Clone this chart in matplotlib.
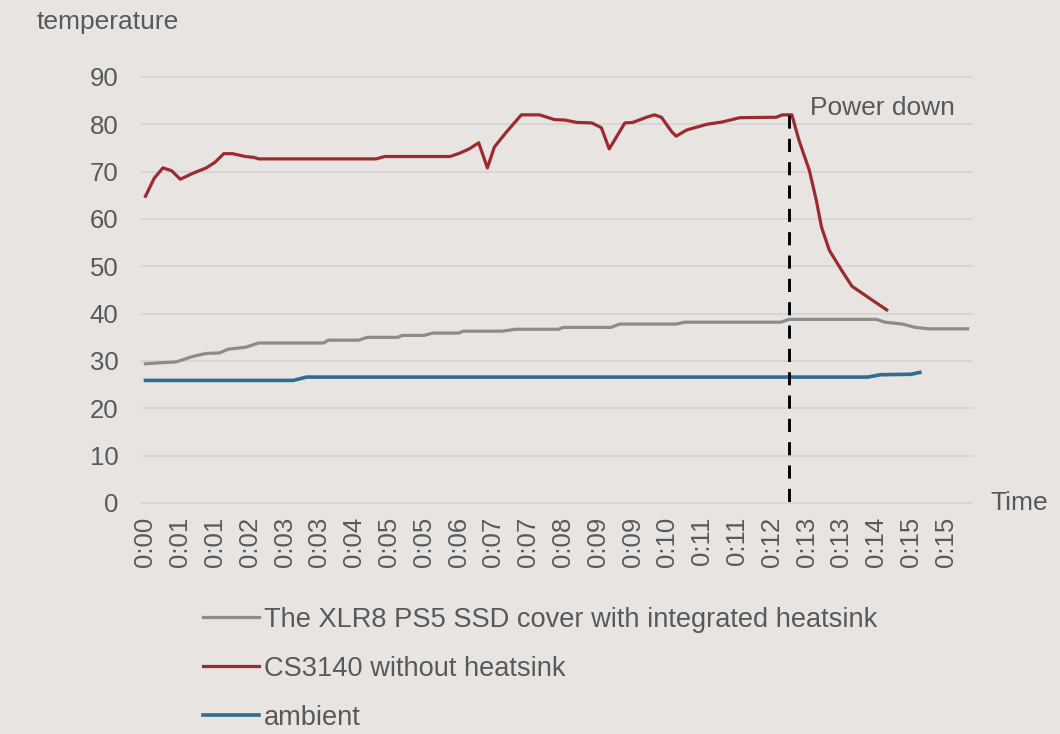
import matplotlib
matplotlib.use("Agg")
import matplotlib.pyplot as plt

plt.rcParams['font.family'] = ['Liberation Sans', 'DejaVu Sans']

# ---- data (time in seconds, temperature in °C) ----
tick_seconds = [0, 40, 80, 120, 160, 200, 240, 280, 320, 360, 400, 440,
                480, 520, 560, 600, 640, 680, 720, 760, 800, 840, 880, 920]
tick_labels = ["0:00", "0:01", "0:01", "0:02", "0:03", "0:03", "0:04", "0:05",
               "0:05", "0:06", "0:07", "0:07", "0:08", "0:09", "0:09", "0:10",
               "0:11", "0:11", "0:12", "0:13", "0:13", "0:14", "0:15", "0:15"]

xlr8_t = [0, 15, 35, 55, 70, 85, 95, 115, 130, 205, 210, 245, 255, 290, 295,
          320, 330, 360, 365, 410, 425, 475, 480, 535, 545, 610, 620, 730,
          740, 840, 850, 870, 885, 900, 945]
xlr8_v = [29.4, 29.6, 29.8, 31.0, 31.6, 31.7, 32.5, 32.9, 33.8, 33.8, 34.4,
          34.4, 35.0, 35.0, 35.4, 35.4, 35.9, 35.9, 36.3, 36.3, 36.7, 36.7,
          37.1, 37.1, 37.8, 37.8, 38.2, 38.2, 38.8, 38.8, 38.2, 37.8, 37.1,
          36.8, 36.8]

cs_t = [0, 10, 20, 30, 40, 55, 70, 80, 90, 100, 115, 125, 130, 265, 275,
        350, 361, 372, 383, 393, 401, 415, 432, 453, 470, 482, 496, 513,
        524, 533, 551, 560, 576, 585, 593, 605, 610, 622, 645, 663, 683,
        725, 732, 743, 751, 763, 771, 777, 786, 800, 812, 835, 852]
cs_v = [64.8, 68.6, 70.8, 70.2, 68.4, 69.7, 70.8, 72.0, 73.8, 73.8, 73.2,
        73.0, 72.7, 72.7, 73.2, 73.2, 73.9, 74.8, 76.1, 70.8, 75.2, 78.4,
        82.0, 82.0, 81.0, 80.9, 80.4, 80.3, 79.3, 74.8, 80.3, 80.4, 81.5,
        82.0, 81.5, 78.4, 77.5, 78.8, 80.0, 80.5, 81.4, 81.5, 82.0, 82.0,
        76.7, 70.3, 64.0, 58.3, 53.4, 49.2, 45.8, 42.9, 40.8]

amb_t = [0, 170, 185, 830, 845, 880, 890]
amb_v = [25.9, 25.9, 26.6, 26.6, 27.1, 27.2, 27.6]

power_down_t = 740

series_names = ["The XLR8 PS5 SSD cover with integrated heatsink",
                "CS3140 without heatsink",
                "ambient"]

# ---- style ----
bg = "#E8E4E1"
grid_c = "#D8D4D1"
text_c = "#595959"
col_gray = "#8C8C8C"
col_red = "#9B2B30"
col_blue = "#2F6E8E"

fig = plt.figure(figsize=(10.6, 7.34), dpi=100, facecolor=bg)
ax = fig.add_axes([142/1060, 1-503/734, 830/1060, 426/734], facecolor=bg)

l1, = ax.plot(xlr8_t, xlr8_v, color=col_gray, lw=2.3, solid_joinstyle='round')
l2, = ax.plot(cs_t, cs_v, color=col_red, lw=2.3, solid_joinstyle='round')
l3, = ax.plot(amb_t, amb_v, color=col_blue, lw=2.6, solid_joinstyle='round')

# power-down marker
ax.plot([power_down_t, power_down_t], [82, -1.6], color="black", lw=2.1,
        dashes=(4.5, 3.5), clip_on=False, zorder=5)
ax.text(764, 83.4, "Power down", color=text_c, fontsize=19,
        ha='left', va='center')

ax.set_xlim(-4, 950)
ax.set_ylim(0, 90)
ax.set_yticks(range(0, 91, 10))
ax.set_xticks(tick_seconds)
ax.set_xticklabels(tick_labels, rotation=90)
ax.tick_params(axis='both', length=0, colors=text_c, labelsize=18.5)
ax.tick_params(axis='y', pad=17)
ax.tick_params(axis='x', pad=10)
ax.grid(axis='y', color=grid_c, lw=1.3)
ax.set_axisbelow(True)
for s in ax.spines.values():
    s.set_visible(False)
for gl in ax.get_ygridlines():
    gl.set_clip_on(False)

ax.text(1.022, 0.0, "Time", transform=ax.transAxes, color=text_c,
        fontsize=19, ha='left', va='center')
fig.text(37/1060, 1-22/734, "temperature", color=text_c, fontsize=19,
         ha='left', va='center')

leg = fig.legend([l1, l2, l3], series_names, loc='upper left',
                 bbox_to_anchor=(203/1060, 1-607/734), frameon=False,
                 fontsize=19.6, handlelength=2.05, handletextpad=0.2,
                 labelspacing=0.84, borderpad=0, borderaxespad=0)
for t in leg.get_texts():
    t.set_color(text_c)

fig.savefig("out.png", dpi=100, facecolor=bg)
